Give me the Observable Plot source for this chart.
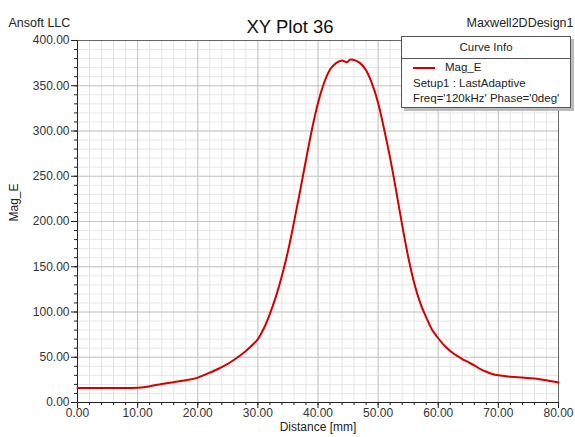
<!DOCTYPE html>
<html>
<head>
<meta charset="utf-8">
<script src="https://cdn.jsdelivr.net/npm/d3@7"></script>
<script src="https://cdn.jsdelivr.net/npm/@observablehq/plot@0.6"></script>
<style>
  html, body { margin: 0; padding: 0; background: #fff; }
  #wrap { position: relative; width: 575px; height: 437px; font-family: "Liberation Sans", Arial, sans-serif; }
  #legend { position: absolute; left: 401px; top: 36px; width: 168px; height: 70px; background: #fff;
            border: 1px solid #555; box-shadow: 3px 3px 0 #bbb; font-size: 11.5px; color: #222; }
  #legend .hdr { height: 21px; line-height: 21px; text-align: center; border-bottom: 1px solid #555; }
  #legend .row { position: absolute; left: 11px; white-space: nowrap; }
  #legend .sw { position: absolute; left: 11px; top: 30px; width: 22px; height: 2px; background: #d40000; }
</style>
</head>
<body>
<div id="wrap"><div id="legend">
  <div class="hdr">Curve Info</div>
  <div class="sw"></div>
  <div class="row" style="left:43px; top:24px;">Mag_E</div>
  <div class="row" style="top:40px;">Setup1 : LastAdaptive</div>
  <div class="row" style="top:55px;">Freq='120kHz' Phase='0deg'</div>
</div></div>
<script>
const distance = [0, 2, 4, 6, 8, 10, 12, 14, 16, 18, 20, 22, 24, 26, 28, 29, 30, 31, 32, 33, 34, 35, 36, 37, 38, 39, 40, 41, 42, 43, 44, 44.8, 45.4, 46.2, 47, 48, 49, 50, 51, 52, 53, 54, 55, 56, 57, 58, 59, 60, 61, 62, 63, 64, 65, 66, 67, 68, 69, 70, 72, 74, 76, 78, 80];
const magE = [16, 16, 16, 16, 16, 16.2, 18, 20.5, 22.5, 24.5, 27.5, 33, 39, 47, 57, 63, 70, 82, 98, 117, 140, 167, 199, 233, 268, 302, 331, 353, 368, 375, 378, 376, 379, 378, 375, 367, 352, 331, 302, 270, 234, 196, 161, 132, 110, 94, 80, 71, 63, 57, 52, 48, 44.5, 41, 37, 34, 31.5, 30, 28.5, 27.5, 26.5, 24.5, 22];
const xMajor = d3.range(0, 81, 10);
const xMinor = d3.range(0, 81, 2);
const yMajor = d3.range(0, 401, 50);
const yMinor = d3.range(0, 401, 10);

const data = distance.map((d, i) => ({x: d, y: magE[i]}));
const fmt = d => d.toFixed(2);

const chart = Plot.plot({
  width: 575, height: 437,
  marginLeft: 77, marginRight: 17, marginTop: 40, marginBottom: 35,
  x: {domain: [0, 80]},
  y: {domain: [0, 400]},
  style: {fontFamily: "Liberation Sans, Arial, sans-serif", fontSize: "12px", background: "transparent", color: "#222"},
  marks: [
    Plot.gridX(xMinor, {stroke: "#e6e6e6", strokeOpacity: 1}),
    Plot.gridY(yMinor, {stroke: "#e6e6e6", strokeOpacity: 1}),
    Plot.gridX(xMajor, {stroke: "#c6c6c6", strokeOpacity: 1}),
    Plot.gridY(yMajor, {stroke: "#c6c6c6", strokeOpacity: 1}),
    Plot.frame({stroke: "#666"}),
    Plot.axisX(xMinor, {tickSize: 3, tickFormat: () => "", label: null, stroke: "#222"}),
    Plot.axisY(yMinor, {tickSize: 3, tickFormat: () => "", label: null, stroke: "#222"}),
    Plot.axisX(xMajor, {tickSize: 6, tickPadding: 0, tickFormat: fmt, label: null, stroke: "#222", fill: "#333"}),
    Plot.axisY(yMajor, {tickSize: 6, tickPadding: 2, tickFormat: fmt, label: null, stroke: "#222", fill: "#333"}),
    Plot.ruleX([0], {stroke: "#222"}),
    Plot.ruleY([0], {stroke: "#222"}),
    Plot.line(data, {x: "x", y: "y", stroke: "#d40000", strokeWidth: 2, curve: "monotone-x"}),
    Plot.text(["Distance [mm]"], {frameAnchor: "bottom", dy: 28, fill: "#222", fontSize: 12}),
    Plot.text(["Mag_E"], {frameAnchor: "left", dx: -63, dy: 0, rotate: -90, fill: "#222", fontSize: 12}),
    Plot.text(["XY Plot 36"], {frameAnchor: "top", dx: -28, dy: -21, fill: "#111", fontSize: 18.5}),
    Plot.text(["Ansoft LLC"], {frameAnchor: "top-left", dx: -69, dy: -22, textAnchor: "start", fill: "#222", fontSize: 12.5}),
    Plot.text(["Maxwell2DDesign1"], {frameAnchor: "top-right", dx: 15, dy: -22, textAnchor: "end", fill: "#222", fontSize: 12.5})
  ]
});
const wrap = document.getElementById("wrap");
chart.style.position = "absolute";
chart.style.left = "0";
chart.style.top = "0";
wrap.insertBefore(chart, wrap.firstChild);
</script>
</body>
</html>
